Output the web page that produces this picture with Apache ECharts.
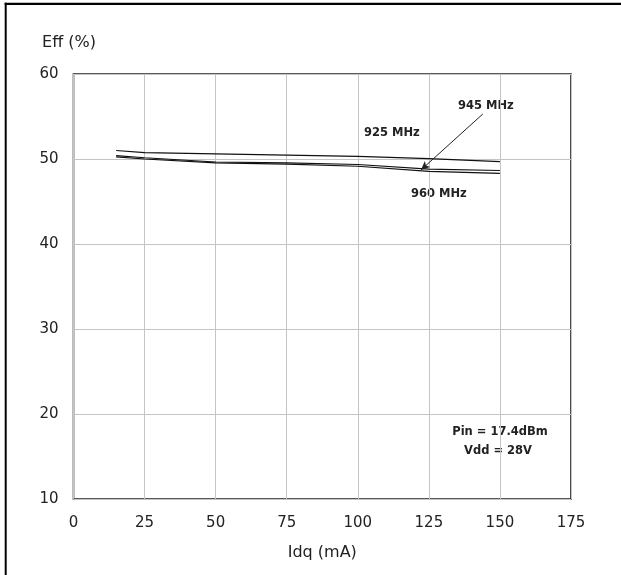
<!DOCTYPE html>
<html>
<head>
<meta charset="utf-8">
<script src="https://cdn.jsdelivr.net/npm/echarts@6/dist/echarts.min.js"></script>
<style>
html,body{margin:0;padding:0;background:#fff;}
#chart{width:621px;height:575px;}
</style>
</head>
<body>
<div id="chart"></div>
<script>
// Data
var idq = [15, 25, 50, 75, 100, 125, 150];
var eff925 = [51.0, 50.75, 50.6, 50.45, 50.3, 50.05, 49.7];
var eff945 = [50.4, 50.15, 49.65, 49.55, 49.35, 48.8, 48.65];
var eff960 = [50.25, 50.0, 49.55, 49.4, 49.15, 48.55, 48.3];
var seriesNames = ['925 MHz', '945 MHz', '960 MHz'];
var xTicks = [0, 25, 50, 75, 100, 125, 150, 175];
var yTicks = [10, 20, 30, 40, 50, 60];
var conditions = ['Pin = 17.4dBm', 'Vdd = 28V'];
var arrowFrom = [144, 55.3];
var arrowTo = [122.2, 48.7];

function pairs(xs, ys){ return xs.map(function(x,i){ return [x, ys[i]]; }); }

var chart = echarts.init(document.getElementById('chart'), null, {renderer:'canvas'});
var FONT = 'DejaVu Sans';
var lineStyle = {color:'#111', width:1.2};

var option = {
  backgroundColor:'#ffffff',
  animation:false,
  grid:{left:73.5, top:74, width:497.5, height:425, show:true, borderColor:'#222', borderWidth:1.6, backgroundColor:'transparent'},
  xAxis:{
    type:'value', min:xTicks[0], max:xTicks[xTicks.length-1], interval:25,
    name:'Idq (mA)', nameLocation:'middle', nameGap:46,
    nameTextStyle:{fontFamily:FONT, fontSize:16, color:'#222'},
    axisLine:{show:false}, axisTick:{show:false},
    axisLabel:{fontFamily:FONT, fontSize:15, color:'#222', margin:17},
    splitLine:{show:true, lineStyle:{color:'#c4c4c4', width:1}}
  },
  yAxis:{
    type:'value', min:yTicks[0], max:yTicks[yTicks.length-1], interval:10,
    name:'Eff (%)', nameLocation:'end', nameGap:23,
    nameTextStyle:{fontFamily:FONT, fontSize:16, color:'#222', padding:[0,9,0,0]},
    axisLine:{show:false}, axisTick:{show:false},
    axisLabel:{fontFamily:FONT, fontSize:15, color:'#222', margin:15},
    splitLine:{show:true, lineStyle:{color:'#c4c4c4', width:1}}
  },
  series:[
    {name:seriesNames[0], type:'line', data:pairs(idq, eff925), symbol:'none', lineStyle:lineStyle},
    {name:seriesNames[1], type:'line', data:pairs(idq, eff945), symbol:'none', lineStyle:lineStyle,
      markLine:{silent:true, symbol:['none','arrow'], symbolSize:[6,9], animation:false,
        lineStyle:{color:'#222', width:1, type:'solid'}, label:{show:false},
        data:[[{coord:arrowFrom},{coord:arrowTo}]]}},
    {name:seriesNames[2], type:'line', data:pairs(idq, eff960), symbol:'none', lineStyle:lineStyle}
  ],
  graphic:[
    {type:'rect', shape:{x:4.7, y:2.7, width:617, height:2.4}, style:{fill:'#000'}},
    {type:'rect', shape:{x:4.7, y:2.7, width:2, height:573}, style:{fill:'#000'}},
    {type:'text', left:364, top:127, style:{text:seriesNames[0], font:'bold 11.5px "DejaVu Sans"', fill:'#222'}},
    {type:'text', left:458, top:100, style:{text:seriesNames[1], font:'bold 11.5px "DejaVu Sans"', fill:'#222'}},
    {type:'text', left:411, top:188, style:{text:seriesNames[2], font:'bold 11.5px "DejaVu Sans"', fill:'#222'}},
    {type:'text', x:500, y:432, style:{text:conditions[0], font:'bold 11.5px "DejaVu Sans"', fill:'#222', textAlign:'center', textVerticalAlign:'middle'}},
    {type:'text', x:498, y:451, style:{text:conditions[1], font:'bold 11.5px "DejaVu Sans"', fill:'#222', textAlign:'center', textVerticalAlign:'middle'}}
  ]
};
chart.setOption(option);
</script>
</body>
</html>
